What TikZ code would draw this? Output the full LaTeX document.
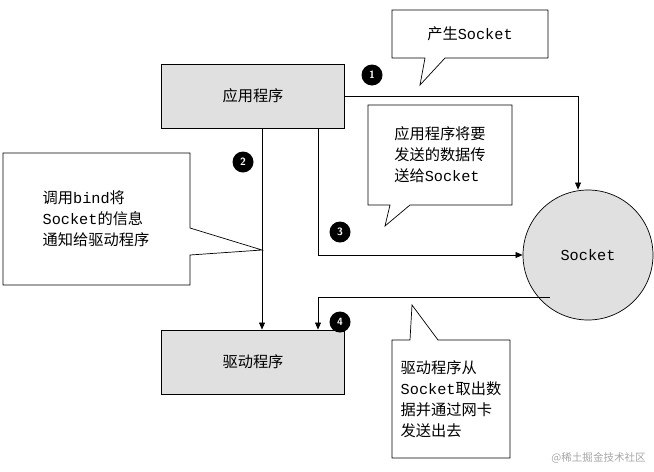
\documentclass[tikz,border=0pt]{standalone}
\usepackage{fontspec}
\newfontfamily\cjk{Noto Sans CJK SC}
\setmonofont{Liberation Mono}
\usetikzlibrary{arrows.meta}
\begin{document}
\begin{tikzpicture}[x=0.03cm,y=-0.03cm,line width=0.6pt,
	box/.style={draw,fill=black!12,minimum width=183*0.03cm,minimum height=64*0.03cm,font=\cjk\fontsize{13}{16}\selectfont},
	badge/.style={circle,fill=black,text=white,inner sep=0pt,minimum size=21*0.03cm,font=\sffamily\bfseries\small},
	note/.style={align=left,font=\cjk\fontsize{13}{18}\selectfont},
	callout/.style={draw,fill=white},
	arr/.style={-{Triangle[length=6pt,width=5pt]}}]
\useasboundingbox (0,0) rectangle (654,471);
\node[box] (app) at (253,96) {应用程序};
\node[box] (drv) at (253,362) {驱动程序};
\node[circle,draw,fill=black!12,minimum size=130*0.03cm,font=\ttfamily\fontsize{13}{16}\selectfont] (sock) at (588,255) {Socket};
% callouts
\draw[callout] (392,10) -- (548,10) -- (548,58) -- (445,58) -- (420,85) -- (425,58) -- (392,58) -- cycle;
\node[note] (n1) at (470,34) {产生\texttt{Socket}};
\draw[callout] (368,105) -- (512,105) -- (512,205) -- (410,205) -- (385,226) -- (390,205) -- (368,205) -- cycle;
\node[note] (n3) at (440,155) {应用程序将要\\发送的数据传\\送给\texttt{Socket}};
\draw[callout] (3,153) -- (190,153) -- (190,228) -- (262,250) -- (190,255) -- (190,285) -- (3,285) -- cycle;
\node[note] (n2) at (96,219) {调用\texttt{bind}将\\\texttt{Socket}的信息\\通知给驱动程序};
\draw[callout] (392,340) -- (410,340) -- (412,305) -- (438,340) -- (510,340) -- (510,458) -- (392,458) -- cycle;
\node[note] (n4) at (451,399) {驱动程序从\\\texttt{Socket}取出数\\据并通过网卡\\发送出去};
% arrows
\coordinate (c1) at (578,96);
\draw[arr] (app.east) -- (c1) -- (sock.north -| c1);
\draw[arr] (app.south -| 262,0) -- (drv.north -| 262,0);
\coordinate (c3) at (318,255);
\draw[arr] (app.south -| c3) -- (c3) -- (sock.west);
\coordinate (c4) at (318,297);
\draw[arr] (sock.south west |- c4) ++(8,0) -- (c4) -- (drv.north -| c4);
% badges
\node[badge] (b1) at (372,75) {1};
\node[badge] (b2) at (243,162) {2};
\node[badge] (b3) at (340,232) {3};
\node[badge] (b4) at (340,322) {4};
\node[text=black!35,font=\cjk\small,anchor=east] (wm) at (650,458) {@稀土掘金技术社区};
\end{tikzpicture}
\end{document}
